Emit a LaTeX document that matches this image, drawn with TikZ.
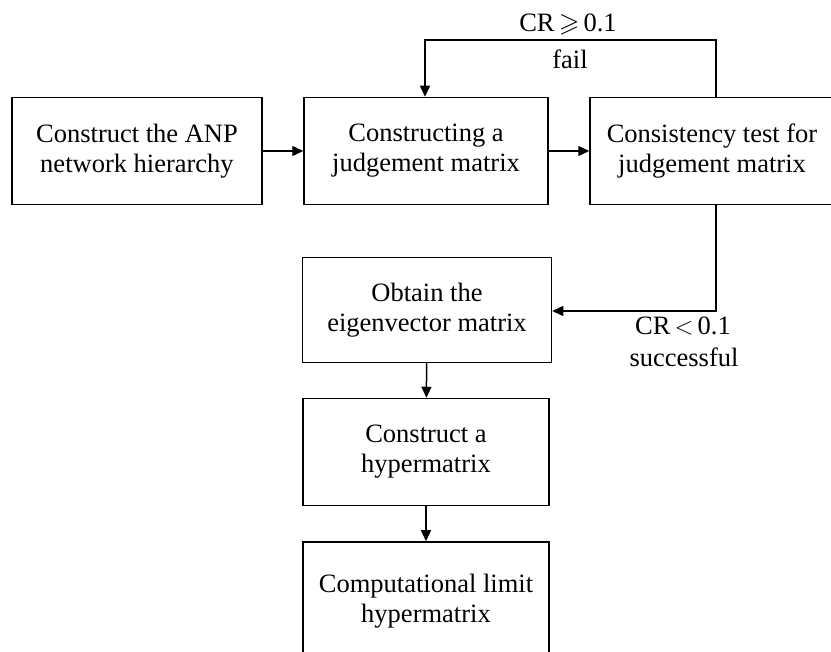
\documentclass[tikz,border=0pt]{standalone}
\usepackage{amssymb}
\usepackage{fontspec}
\setmainfont{Liberation Serif}
\usetikzlibrary{arrows.meta}

\begin{document}
\begin{tikzpicture}[x=1pt, y=-1pt,
    box/.style={draw, line width=1.5pt, align=center, inner sep=0pt,
        minimum width=244pt, minimum height=107pt,
        font=\fontsize{26.5}{30}\selectfont},
    flow/.style={-{Triangle[length=11pt, width=10pt]}, line width=1.5pt},
    lbl/.style={font=\fontsize{26.5}{30}\selectfont, inner sep=0pt}]
    \useasboundingbox (0,0) rectangle (831,652);
    \clip (0,0) rectangle (831,652);

    % 第一行
    \node[box, minimum width=250pt] (anp) at (137,151) {Construct the ANP\\network hierarchy};
    \node[box] (judge) at (426,151) {Constructing a\\judgement matrix};
    \node[box] (test) at (712,151) {Consistency test for\\judgement matrix};

    % 中间一列
    \node[box, minimum width=249pt, minimum height=105pt] (eigen) at (427,310) {Obtain the\\eigenvector matrix};
    \node[box, minimum width=246pt] (hyper) at (426,452) {Construct a\\hypermatrix};
    \node[box, minimum width=246pt, minimum height=118pt] (limit) at (426,601) {Computational limit\\hypermatrix};

    % 连线
    \coordinate (failR) at (716,40);
    \coordinate (failL) at (425,40);
    \coordinate (okR) at (716,311);

    \draw[flow] (anp) -- (judge);
    \draw[flow] (judge) -- (test);
    \draw[flow] (test.north -| failR) -- (failR) -- (failL) -- (judge.north -| failL);
    \draw[flow] (test.south -| okR) -- (okR) -- (eigen.east |- okR);
    \draw[flow] (eigen) -- (hyper);
    \draw[flow] (hyper) -- (limit);

    % 标注
    \node[lbl] (geq) at (568,25) {CR$\,\geqslant\,$0.1};
    \node[lbl] (fail) at (570,59) {fail};
    \node[lbl] (less) at (683,326) {CR$\,<\,$0.1};
    \node[lbl] (succ) at (684,357) {successful};
\end{tikzpicture}
\end{document}
